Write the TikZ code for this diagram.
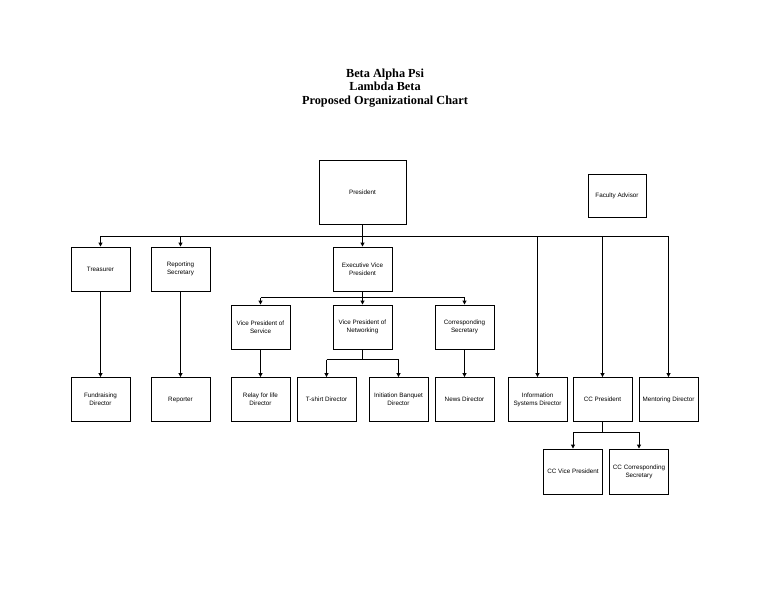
\documentclass[tikz,border=0pt]{standalone}
\usepackage{fontspec}
\setmainfont{Liberation Sans}
\newfontfamily\titlefont{Liberation Serif}
\usetikzlibrary{arrows.meta}
\tikzset{
  box/.style={draw,line width=0.9pt,minimum width=59pt,minimum height=44pt,inner sep=1pt,
    align=center,font=\fontsize{6.3}{8}\selectfont},
  arr/.style={-{Triangle[length=4pt,width=4pt]}},
  link/.style={line width=0.9pt}
}
\begin{document}
\begin{tikzpicture}[x=1pt,y=-1pt]
\useasboundingbox (0,0) rectangle (768,594);
\node[align=center,font=\titlefont\bfseries\fontsize{12.3}{13.5}\selectfont] (title) at (385,88)
  {Beta Alpha Psi\\Lambda Beta\\Proposed Organizational Chart};
%boxes
\node[box,minimum width=87pt,minimum height=64pt] (pres) at (362.5,192) {President};
\node[box,minimum width=58pt,minimum height=43pt] (fac) at (617,195.5) {Faculty Advisor};
\node[box] (treas) at (100.5,269) {Treasurer};
\node[box] (repsec) at (180.5,269) {Reporting\\Secretary};
\node[box] (evp) at (362.5,269) {Executive Vice\\President};
\node[box] (vpserv) at (260.5,327) {Vice President of\\Service};
\node[box] (vpnet) at (362.5,327) {Vice President of\\Networking};
\node[box] (corrsec) at (464.5,327) {Corresponding\\Secretary};
\node[box] (fund) at (100.5,399.5) {Fundraising\\Director};
\node[box] (reporter) at (180.5,399.5) {Reporter};
\node[box] (relay) at (260.5,399.5) {Relay for life\\Director};
\node[box] (tshirt) at (326.5,399.5) {T-shirt Director};
\node[box] (banquet) at (398.5,399.5) {Initiation Banquet\\Director};
\node[box] (news) at (464.5,399.5) {News Director};
\node[box] (infosys) at (537.5,399.5) {Information\\Systems Director};
\node[box] (ccpres) at (602.5,399.5) {CC President};
\node[box] (mentor) at (668.5,399.5) {Mentoring Director};
\node[box,minimum height=45pt] (ccvp) at (573,471.5) {CC Vice President};
\node[box,minimum height=45pt] (ccsec) at (639,471.5) {CC Corresponding\\Secretary};
%buses
\coordinate (bus1) at (0,236);
\coordinate (bus2) at (0,297.5);
\coordinate (bus3) at (0,359.5);
\coordinate (bus4) at (0,432);
\draw[link] (treas.north|-bus1)--(mentor.north|-bus1);
\draw[link,arr] (pres)--(evp);
\foreach \n in {treas,repsec,infosys,ccpres,mentor}
  \draw[link,arr] (\n.north|-bus1)--(\n.north);
\draw[link] (evp.south)--(evp.south|-bus2) (vpserv.north|-bus2)--(corrsec.north|-bus2);
\draw[link,arr] (evp.south|-bus2)--(vpnet);
\draw[link,arr] (vpserv.north|-bus2)--(vpserv.north);
\draw[link,arr] (corrsec.north|-bus2)--(corrsec.north);
\draw[link] (vpnet.south)--(vpnet.south|-bus3) (tshirt.north|-bus3)--(banquet.north|-bus3);
\draw[link,arr] (tshirt.north|-bus3)--(tshirt.north);
\draw[link,arr] (banquet.north|-bus3)--(banquet.north);
\draw[link] (ccpres.south)--(ccpres.south|-bus4) (ccvp.north|-bus4)--(ccsec.north|-bus4);
\draw[link,arr] (ccvp.north|-bus4)--(ccvp.north);
\draw[link,arr] (ccsec.north|-bus4)--(ccsec.north);
%direct
\draw[link,arr] (treas)--(fund);
\draw[link,arr] (repsec)--(reporter);
\draw[link,arr] (vpserv)--(relay);
\draw[link,arr] (corrsec)--(news);
\end{tikzpicture}
\end{document}
